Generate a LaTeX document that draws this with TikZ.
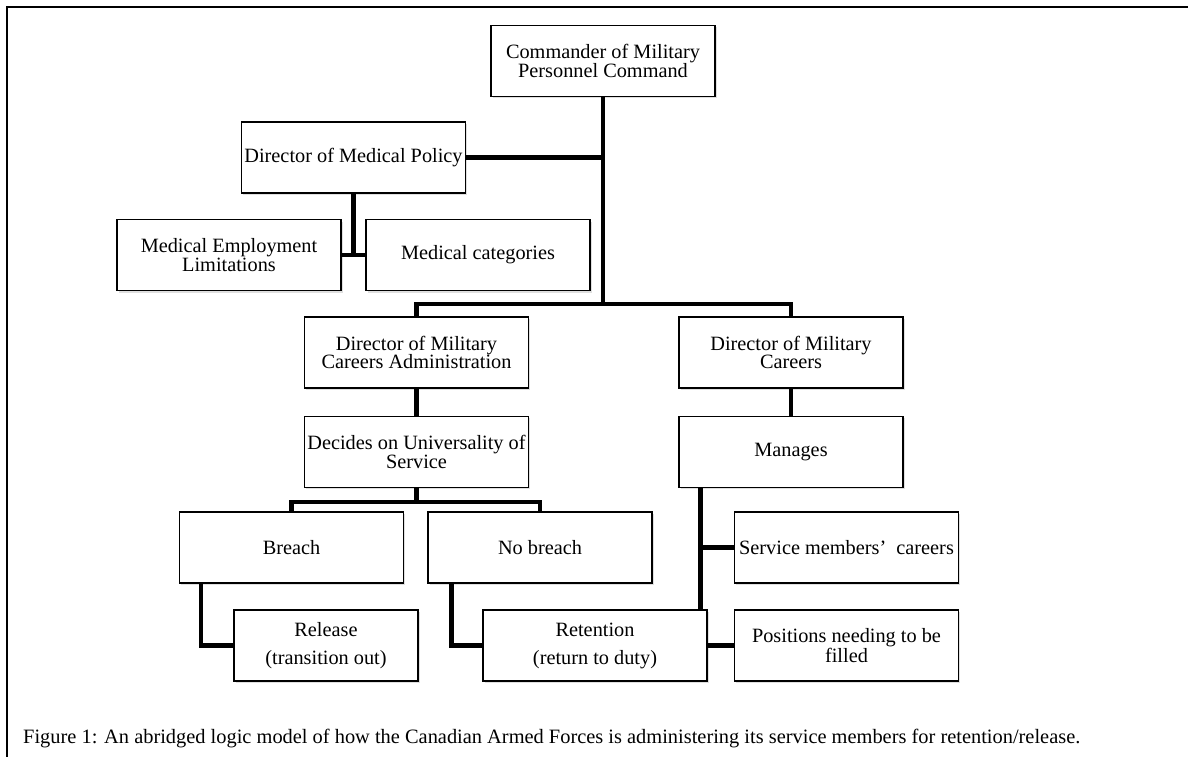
\documentclass[tikz,border=0pt]{standalone}
\usepackage{fontspec}
\setmainfont{Liberation Serif}
\usetikzlibrary{positioning,shadows}

\begin{document}
\begin{tikzpicture}[x=1pt,y=-1pt,
  box node/.style={rectangle,draw,fill=white,line width=1.2pt,minimum width=224pt,
    minimum height=71pt,inner sep=1pt,align=center,font=\fontsize{20.3}{18.5}\selectfont,
    drop shadow={shadow xshift=1.5pt,shadow yshift=-2pt,opacity=0.25}},
  link/.style={line width=4.5pt}]
  \useasboundingbox (0,0) rectangle (1188,757);
  \draw[line width=2pt] (7,757) -- (7,7) -- (1188,7);

  \node[box node] (cmd) at (603,61) {Commander of Military\\Personnel Command};
  \node[box node] (dmpol) at (353.5,157.5) {Director of Medical Policy};
  \node[box node] (mel) at (229,255) {Medical Employment\\Limitations};
  \node[box node] (mc) at (478,255) {Medical categories};
  \node[box node] (dmca) at (416.5,352.5) {Director of Military\\Careers Administration};
  \node[box node] (dmc) at (791,352.5) {Director of Military\\Careers};
  \node[box node] (decides) [below=27pt of dmca] {Decides on Universality of\\Service};
  \node[box node] (manages) [below=27pt of dmc] {Manages};
  \node[box node] (breach) at (291.5,547.5) {Breach};
  \node[box node] (nobreach) at (540,547.5) {No breach};
  \node[box node] (smc) at (846.5,547.5) {Service members'~ careers};
  \node[box node,minimum width=184pt] (release) at (326,645.5) {Release\\[9.5pt](transition out)};
  \node[box node] (retention) at (595,645.5) {Retention\\[9.5pt](return to duty)};
  \node[box node] (positions) at (846.5,645.5) {Positions needing to be\\filled};

  \coordinate (hub) at (cmd.south |- 0,304);
  \draw[link] (cmd.south) -- (hub);
  \draw[link] (dmpol.east) -- (dmpol.east -| cmd.south);
  \draw[link] (dmpol.south) -- (dmpol.south |- mel.east);
  \draw[link] (mel.east) -- (mc.west);
  \draw[link] (dmca.north) |- (hub) -| (dmc.north);
  \draw[link] (dmca.south) -- (decides.north);
  \draw[link] (dmc.south) -- (manages.north);
  \draw[link] (decides.south) -- ++(0,14) coordinate (fork);
  \draw[link] (breach.north) |- (fork) -| (nobreach.north);
  \draw[link] ([xshift=22pt]breach.south west) |- (release.west);
  \draw[link] ([xshift=24pt]nobreach.south west) |- (retention.west);
  \draw[link] ([xshift=22pt]manages.south west) -- ([xshift=22pt]manages.south west |- retention.north);
  \draw[link] (smc.west) -- ([xshift=22pt]manages.south west |- smc.west);
  \draw[link] (retention.east) -- (positions.west);

  \node[anchor=base west,inner sep=0pt,font=\fontsize{20.4}{24}\selectfont] (caption) at (23,743)
    {Figure 1: An abridged logic model of how the Canadian Armed Forces is administering its service members for retention/release.};
\end{tikzpicture}
\end{document}
